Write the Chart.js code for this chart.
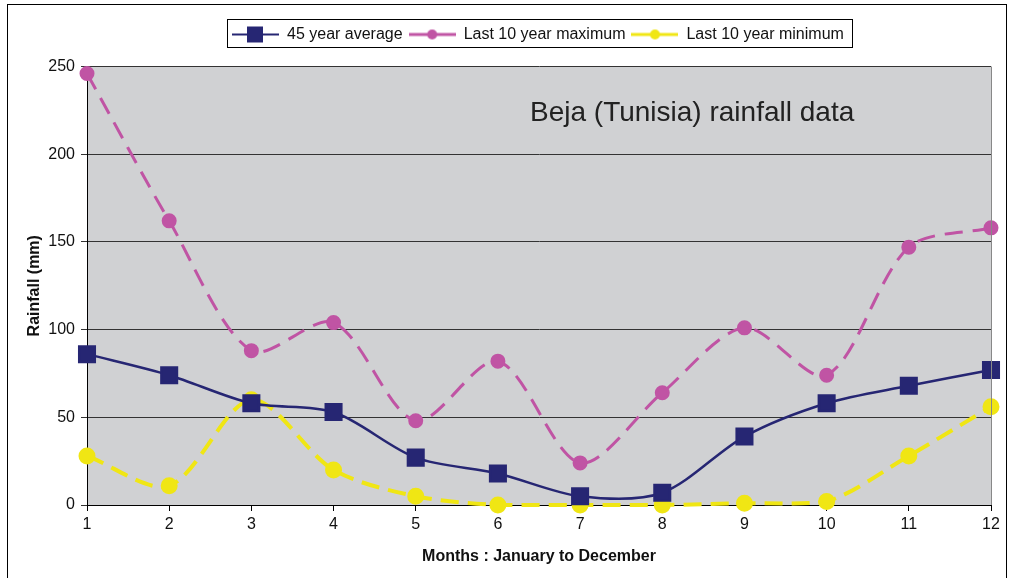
<!DOCTYPE html>
<html>
<head>
<meta charset="utf-8">
<script src="https://cdn.jsdelivr.net/npm/chart.js@4"></script>
<style>
  html, body { margin: 0; padding: 0; background: #fff; }
  #wrap { width: 1010px; height: 578px; }
</style>
</head>
<body>
<div id="wrap"><canvas id="myChart" width="1010" height="578"></canvas></div>
<script>
// Données
const months = ['1', '2', '3', '4', '5', '6', '7', '8', '9', '10', '11', '12'];
const average45 = [86, 74, 58, 53, 27, 18, 5, 7, 39, 58, 68, 77];
const max10 = [246, 162, 88, 104, 48, 82, 24, 64, 101, 74, 147, 158];
const min10 = [28, 11, 60, 20, 5, 0, 0, 0, 1, 2, 28, 56];
const yTicks = [0, 50, 100, 150, 200, 250];

const FONT = 'Liberation Sans, Arial, sans-serif';

// petite icône de légende : trait + marqueur
function legendIcon(color, shape, lw) {
    const c = document.createElement('canvas');
    c.width = 47; c.height = 18;
    const g = c.getContext('2d');
    g.strokeStyle = color;
    g.lineWidth = lw;
    g.beginPath(); g.moveTo(0, 9); g.lineTo(47, 9); g.stroke();
    g.fillStyle = color;
    if (shape === 'square') {
        g.fillRect(15, 1, 16, 16);
    } else {
        g.beginPath(); g.arc(23.5, 9, 5, 0, Math.PI * 2); g.fill();
    }
    return c;
}

const chartBg = {
    id: 'chartBg',
    afterLayout(chart) {
        // décale la légende comme dans l'original (pas centrée sur le canvas)
        const lg = chart.legend;
        const pad = lg.options.labels.padding;
        const start = (lg.left + pad + lg.right - lg.lineWidths[0]) / 2;
        const shift = 232 - start;
        lg.left += shift;
        lg.right += shift;
    },
    beforeDraw(chart) {
        const { ctx, chartArea: a } = chart;
        ctx.save();
        ctx.fillStyle = '#d0d1d3';
        ctx.fillRect(a.left, a.top, a.right - a.left, a.bottom - a.top);
        ctx.restore();
    },
    afterDraw(chart) {
        const { ctx, chartArea: a } = chart;
        ctx.save();
        // bordure extérieure
        ctx.strokeStyle = '#000';
        ctx.lineWidth = 1;
        ctx.strokeRect(7.5, 4.5, 999, 580);
        // bordure droite de la zone de tracé
        ctx.strokeStyle = '#888';
        ctx.beginPath(); ctx.moveTo(a.right + 0.5, a.top); ctx.lineTo(a.right + 0.5, a.bottom); ctx.stroke();
        // cadre de la légende
        const boxes = chart.legend.legendHitBoxes;
        if (boxes && boxes.length) {
            const l = boxes[0].left - 5;
            const last = boxes[boxes.length - 1];
            const r = last.left + last.width + 8;
            ctx.strokeStyle = '#000';
            ctx.strokeRect(Math.round(l) + 0.5, 19.5, Math.round(r - l), 28);
        }
        // titre dans la zone de tracé
        ctx.fillStyle = '#222';
        ctx.font = '28px ' + FONT;
        ctx.textBaseline = 'middle';
        ctx.fillText('Beja (Tunisia) rainfall data', 530, 113);
        ctx.restore();
    }
};

new Chart(document.getElementById('myChart'), {
    type: 'line',
    data: {
        labels: months,
        datasets: [{
            label: '45 year average',
            data: average45,
            borderColor: '#262673',
            backgroundColor: '#262673',
            borderWidth: 2.5,
            tension: 0.3,
            clip: false,
            pointStyle: 'rect',
            pointRadius: 11,
            legendIcon: legendIcon('#262673', 'square', 2),
        }, {
            label: 'Last 10 year maximum',
            data: max10,
            borderColor: '#c054a4',
            backgroundColor: '#c054a4',
            borderWidth: 3,
            borderDash: [18, 10],
            tension: 0.3,
            clip: false,
            pointStyle: 'circle',
            pointRadius: 6,
            legendIcon: legendIcon('#c054a4', 'circle', 3),
        }, {
            label: 'Last 10 year minimum',
            data: min10,
            borderColor: '#f0e614',
            backgroundColor: '#f0e614',
            borderWidth: 4,
            borderDash: [18, 9],
            tension: 0.3,
            clip: false,
            pointStyle: 'circle',
            pointRadius: 6.5,
            legendIcon: legendIcon('#f0e614', 'circle', 3),
        }],
    },
    options: {
        responsive: false,
        animation: false,
        layout: { padding: { left: 10, right: 19, top: 0, bottom: 6 } },
        plugins: {
            tooltip: { enabled: false },
            // espaceurs au-dessus et au-dessous de la légende
            title: { display: true, text: ' ', font: { size: 10 }, padding: { top: 8.5, bottom: 0 } },
            subtitle: { display: true, text: ' ', weight: 500, font: { size: 10 }, padding: { top: 2, bottom: 0 } },
            legend: {
                position: 'top',
                labels: {
                    usePointStyle: true,
                    pointStyleWidth: 47,
                    font: { family: FONT, size: 16 },
                    color: '#111',
                    padding: 6,
                    generateLabels(chart) {
                        return chart.data.datasets.map((ds, i) => ({
                            text: ds.label,
                            pointStyle: ds.legendIcon,
                            datasetIndex: i,
                            fontColor: '#111',
                            lineWidth: 0,
                        }));
                    },
                },
            },
        },
        scales: {
            x: {
                offset: false,
                grid: { drawOnChartArea: false, color: '#000', tickLength: 6 },
                border: { color: '#000' },
                ticks: { font: { family: FONT, size: 16 }, color: '#111', padding: 4, maxRotation: 0 },
                title: {
                    display: true,
                    text: 'Months : January to December',
                    font: { family: FONT, size: 16, weight: 'bold' },
                    color: '#111',
                    padding: { top: 0, bottom: 6 },
                },
                afterFit(scale) { scale.height = 67; },
            },
            y: {
                min: 0,
                max: 250,
                afterBuildTicks(scale) { scale.ticks = yTicks.map(v => ({ value: v })); },
                grid: { color: '#333', tickLength: 6 },
                border: { color: '#000' },
                ticks: { font: { family: FONT, size: 16 }, color: '#111', padding: 6 },
                title: {
                    display: true,
                    text: 'Rainfall (mm)',
                    font: { family: FONT, size: 16, weight: 'bold' },
                    color: '#111',
                    padding: { top: 15 },
                },
                afterFit(scale) { scale.width = 77; },
            },
        },
    },
    plugins: [chartBg],
});
</script>
</body>
</html>
